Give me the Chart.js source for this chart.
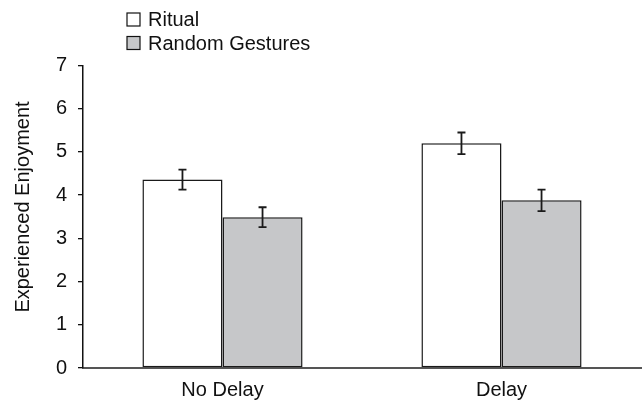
<!DOCTYPE html>
<html>
<head>
<meta charset="utf-8">
<script src="https://cdn.jsdelivr.net/npm/chart.js@4"></script>
<style>
  body { margin: 0; background: #fff; }
  #wrap { width: 642px; height: 404px; }
</style>
</head>
<body>
<div id="wrap"><canvas id="enjoymentChart" width="642" height="404"></canvas></div>
<script>
// data
const categories = ['No Delay', 'Delay'];
const seriesNames = ['Ritual', 'Random Gestures'];
const ritualValues = [4.36, 5.20];
const randomValues = [3.49, 3.88];
const ritualErrors = [0.23, 0.25];
const randomErrors = [0.23, 0.25];
const yTicks = [0, 1, 2, 3, 4, 5, 6, 7];
const yTitle = 'Experienced Enjoyment';

const FONT = '"Liberation Sans", Arial, sans-serif';

// error bars drawn on top of each bar
const errorBarPlugin = {
    id: 'errorBars',
    afterDatasetsDraw(chart) {
        const ctx = chart.ctx;
        const yScale = chart.scales.y;
        const errs = [ritualErrors, randomErrors];
        ctx.save();
        ctx.strokeStyle = '#1a1a1a';
        ctx.lineWidth = 1.8;
        chart.data.datasets.forEach((ds, i) => {
            const meta = chart.getDatasetMeta(i);
            meta.data.forEach((bar, j) => {
                const v = ds.data[j];
                const top = yScale.getPixelForValue(v + errs[i][j]);
                const bot = yScale.getPixelForValue(v - errs[i][j]);
                const x = bar.x;
                ctx.beginPath();
                ctx.moveTo(x, top); ctx.lineTo(x, bot);
                ctx.moveTo(x - 4, top); ctx.lineTo(x + 4, top);
                ctx.moveTo(x - 4, bot); ctx.lineTo(x + 4, bot);
                ctx.stroke();
            });
        });
        ctx.restore();
    }
};

// legend stacked at the top left + y axis title, like the figure
const legendPlugin = {
    id: 'stackLegend',
    afterDraw(chart) {
        const ctx = chart.ctx;
        ctx.save();
        ctx.font = '20px ' + FONT;
        ctx.textBaseline = 'middle';
        chart.data.datasets.forEach((ds, i) => {
            const cy = 19.5 + i * 23.5;
            ctx.fillStyle = ds.backgroundColor;
            ctx.fillRect(127, cy - 6.5, 13, 13);
            ctx.strokeStyle = '#111';
            ctx.lineWidth = 1.2;
            ctx.strokeRect(127, cy - 6.5, 13, 13);
            ctx.fillStyle = '#111';
            ctx.fillText(ds.label, 148, cy + 1);
        });

        ctx.translate(23, 207);
        ctx.rotate(-Math.PI / 2);
        ctx.textAlign = 'center';
        ctx.fillStyle = '#111';
        ctx.fillText(yTitle, 0, 0);
        ctx.restore();
    }
};

new Chart(document.getElementById('enjoymentChart').getContext('2d'), {
    type: 'bar',
    data: {
        labels: categories,
        datasets: [
            {
                label: seriesNames[0],
                data: ritualValues,
                backgroundColor: '#ffffff',
                borderColor: '#1a1a1a',
                borderWidth: 1.5,
                borderSkipped: false
            },
            {
                label: seriesNames[1],
                data: randomValues,
                backgroundColor: '#c6c7c9',
                borderColor: '#1a1a1a',
                borderWidth: 1.5,
                borderSkipped: false
            }
        ]
    },
    options: {
        responsive: false,
        animation: false,
        devicePixelRatio: 1,
        layout: { padding: { top: 65.5, right: 1, left: 0, bottom: 0 } },
        datasets: { bar: { categoryPercentage: 0.574, barPercentage: 1.0 } },
        plugins: {
            legend: { display: false },
            tooltip: { enabled: false }
        },
        scales: {
            x: {
                grid: { display: false, drawTicks: false },
                border: { display: true, color: '#555', width: 2 },
                ticks: { color: '#111', padding: 10, font: { family: FONT, size: 20 } },
                afterFit(scale) { scale.height = 36; }
            },
            y: {
                min: 0,
                max: 7,
                afterBuildTicks(scale) { scale.ticks = yTicks.map(v => ({ value: v })); },
                grid: { drawOnChartArea: false, drawTicks: true, tickLength: 5, color: '#111', lineWidth: 1.3 },
                border: { display: true, color: '#111', width: 1.5 },
                ticks: { color: '#111', padding: 11, font: { family: FONT, size: 20 } },
                afterFit(scale) { scale.width = 83; }
            }
        }
    },
    plugins: [errorBarPlugin, legendPlugin]
});
</script>
</body>
</html>
